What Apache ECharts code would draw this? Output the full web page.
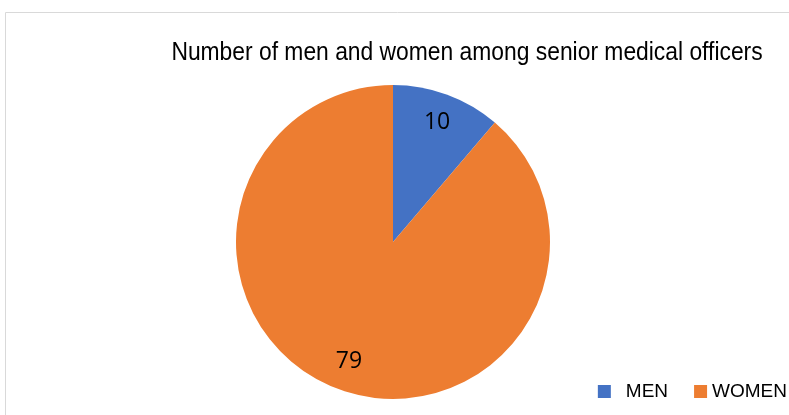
<!DOCTYPE html>
<html>
<head>
<meta charset="utf-8">
<script src="https://cdn.jsdelivr.net/npm/echarts@6/dist/echarts.min.js"></script>
<style>
  html, body { margin: 0; padding: 0; background: #ffffff; }
  #chart { width: 789px; height: 415px; }
</style>
</head>
<body>
<div id="chart"></div>
<script>
// Senior medical officers by sex
const categories = ['MEN', 'WOMEN'];
const counts = [10, 79];
const colors = ['#4472C4', '#ED7D31'];
const titleText = 'Number of men and women among senior medical officers';

const pieData = categories.map((name, i) => ({ name: name, value: counts[i] }));
const legendFont = '"Liberation Sans", Arial, sans-serif';

const chart = echarts.init(document.getElementById('chart'));
chart.setOption({
  animation: false,
  color: colors,
  legend: {
    data: [
      { name: categories[0], textStyle: { padding: [0, 0, 0, 10] } },
      { name: categories[1] }
    ],
    right: 2,
    top: 382,
    padding: 0,
    icon: 'rect',
    itemWidth: 13,
    itemHeight: 13,
    itemGap: 26,
    textStyle: {
      fontFamily: legendFont,
      fontSize: 19,
      color: '#000000'
    }
  },
  graphic: [
    {
      // chart area frame
      type: 'rect',
      shape: { x: 5.5, y: 12.5, width: 800, height: 420 },
      style: { fill: 'none', stroke: '#d9d9d9', lineWidth: 1 },
      silent: true,
      z: -10
    },
    {
      // condensed title
      type: 'text',
      x: 467,
      y: 53,
      scaleX: 0.862,
      style: {
        text: titleText,
        x: 0,
        y: 0,
        textAlign: 'center',
        textVerticalAlign: 'middle',
        font: '26.5px "Liberation Sans", Arial, sans-serif',
        fill: '#000000'
      },
      silent: true
    }
  ],
  series: [
    {
      // the slices
      type: 'pie',
      center: [393, 242],
      radius: [0, 157],
      startAngle: 90,
      clockwise: true,
      label: { show: false },
      labelLine: { show: false },
      itemStyle: { borderWidth: 0 },
      data: pieData
    },
    {
      // value labels, placed further out along each slice
      type: 'pie',
      center: [393, 242],
      radius: [92, 157],
      startAngle: 90,
      clockwise: true,
      silent: true,
      legendHoverLink: false,
      itemStyle: { color: 'rgba(0,0,0,0)', borderWidth: 0 },
      label: {
        show: true,
        position: 'inside',
        formatter: '{c}',
        fontFamily: '"Open Sans", "Noto Sans", sans-serif',
        fontSize: 23,
        color: '#000000'
      },
      labelLine: { show: false },
      data: pieData.map(d => ({ name: d.name + ' ', value: d.value }))
    }
  ]
});
</script>
</body>
</html>
